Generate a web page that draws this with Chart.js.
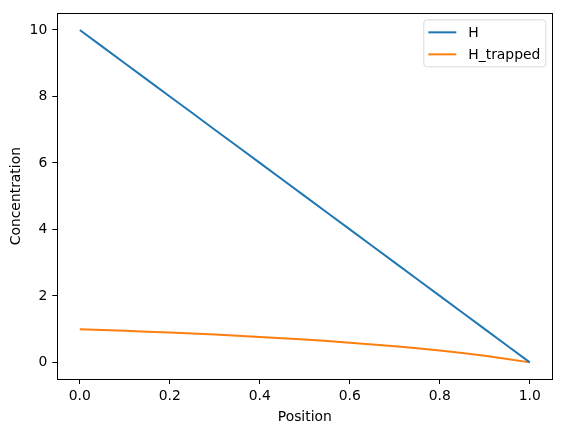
<!DOCTYPE html>
<html>
<head>
<meta charset="utf-8">
<script src="https://cdn.jsdelivr.net/npm/chart.js@4/dist/chart.umd.min.js"></script>
<style>
  body { margin: 0; background: #fff; }
  #wrap { width: 563px; height: 432px; }
</style>
</head>
<body>
<div id="wrap"><canvas id="chart" width="563" height="432"></canvas></div>
<script>
// data
let positions = [0, 0.05, 0.1, 0.15, 0.2, 0.25, 0.3, 0.35, 0.4, 0.45, 0.5,
                 0.55, 0.6, 0.65, 0.7, 0.75, 0.8, 0.85, 0.9, 0.95, 1.0];
let hValues = [10, 9.5, 9, 8.5, 8, 7.5, 7, 6.5, 6, 5.5, 5,
               4.5, 4, 3.5, 3, 2.5, 2, 1.5, 1, 0.5, 0];
let hTrapped = [1.0, 0.977, 0.952, 0.925, 0.898, 0.868, 0.836, 0.803, 0.767, 0.728, 0.687,
                0.642, 0.594, 0.541, 0.484, 0.422, 0.354, 0.279, 0.196, 0.103, 0];
let seriesNames = ['H', 'H_trapped'];
let xTicks = [0, 0.2, 0.4, 0.6, 0.8, 1.0];
let yTicks = [0, 2, 4, 6, 8, 10];

const FONT = "'DejaVu Sans', sans-serif";
const FSIZE = 13.9;

function toPoints(xs, ys) {
    let pts = [];
    for (let i = 0; i < xs.length; i++) {
        pts.push({ x: xs[i], y: ys[i] });
    }
    return pts;
}

// black frame around the plot, like matplotlib
const frame = {
    id: 'frame',
    afterDraw(chart) {
        const { ctx, chartArea: a } = chart;
        ctx.save();
        ctx.strokeStyle = '#000';
        ctx.lineWidth = 1;
        ctx.strokeRect(Math.round(a.left) + 0.5, Math.round(a.top) + 0.5,
                       Math.round(a.right - a.left), Math.round(a.bottom - a.top));
        ctx.restore();
    }
};

// legend box in the upper right corner
const boxLegend = {
    id: 'boxLegend',
    afterDraw(chart) {
        const ctx = chart.ctx;
        const a = chart.chartArea;
        const w = 122, h = 47;
        const x = a.right - 7 - w, y = a.top + 6;
        ctx.save();
        ctx.beginPath();
        ctx.roundRect(x + 0.5, y + 0.5, w, h, 3);
        ctx.fillStyle = 'rgba(255,255,255,0.8)';
        ctx.fill();
        ctx.strokeStyle = '#d9d9d9';
        ctx.lineWidth = 1;
        ctx.stroke();
        ctx.font = FSIZE + 'px ' + FONT;
        ctx.textBaseline = 'middle';
        chart.data.datasets.forEach((ds, i) => {
            const ly = y + 13 + i * 22;
            ctx.strokeStyle = ds.borderColor;
            ctx.lineWidth = 2;
            ctx.beginPath();
            ctx.moveTo(x + 5, ly);
            ctx.lineTo(x + 33, ly);
            ctx.stroke();
            ctx.fillStyle = '#000';
            ctx.fillText(ds.label, x + 45, ly + 1);
        });
        ctx.restore();
    }
};

new Chart(document.getElementById('chart'), {
    type: 'line',
    data: {
        datasets: [
            {
                label: seriesNames[0],
                data: toPoints(positions, hValues),
                borderColor: '#1f77b4',
                backgroundColor: '#1f77b4',
                borderWidth: 2,
                pointRadius: 0,
                fill: false
            },
            {
                label: seriesNames[1],
                data: toPoints(positions, hTrapped),
                borderColor: '#ff7f0e',
                backgroundColor: '#ff7f0e',
                borderWidth: 2,
                pointRadius: 0,
                fill: false
            }
        ]
    },
    options: {
        responsive: false,
        animation: false,
        layout: { padding: { left: 0, right: 10.7, top: 9, bottom: 0 } },
        plugins: {
            legend: { display: false },
            tooltip: { enabled: false }
        },
        scales: {
            x: {
                type: 'linear',
                min: -0.05,
                max: 1.05,
                afterBuildTicks: (scale) => { scale.ticks = xTicks.map(v => ({ value: v })); },
                afterFit: (scale) => { scale.height = 53; },
                grid: { display: true, drawOnChartArea: false, drawTicks: true, tickLength: 5, color: '#000' },
                border: { display: false },
                ticks: {
                    color: '#000',
                    padding: 4,
                    maxRotation: 0,
                    font: { family: FONT, size: FSIZE },
                    callback: (v) => v.toFixed(1)
                },
                title: {
                    display: true,
                    text: 'Position',
                    color: '#000',
                    padding: { top: 2, bottom: 6.5 },
                    font: { family: FONT, size: FSIZE }
                }
            },
            y: {
                type: 'linear',
                min: -0.5,
                max: 10.5,
                afterBuildTicks: (scale) => { scale.ticks = yTicks.map(v => ({ value: v })); },
                afterFit: (scale) => { scale.width = 57.3; },
                grid: { display: true, drawOnChartArea: false, drawTicks: true, tickLength: 5, color: '#000' },
                border: { display: false },
                ticks: {
                    color: '#000',
                    padding: 5,
                    font: { family: FONT, size: FSIZE },
                    callback: (v) => String(v)
                },
                title: {
                    display: true,
                    text: 'Concentration',
                    color: '#000',
                    padding: { top: 8, bottom: 4 },
                    font: { family: FONT, size: FSIZE }
                }
            }
        }
    },
    plugins: [frame, boxLegend]
});
</script>
</body>
</html>
